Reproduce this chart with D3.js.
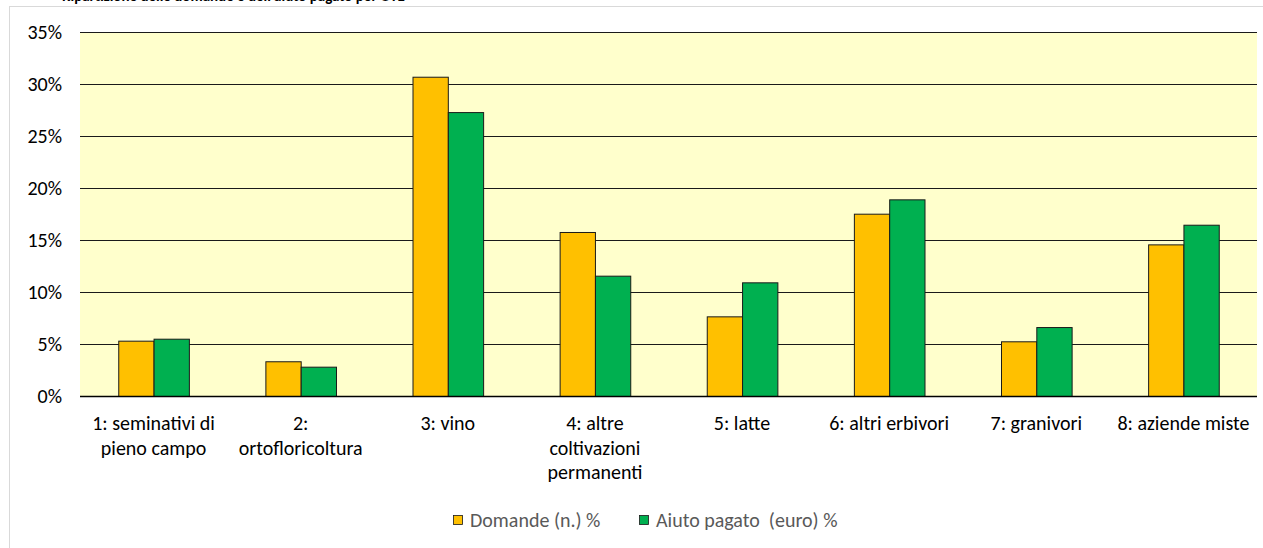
<!DOCTYPE html>
<html>
  <head>
    <title>Domande e aiuto pagato per OTE</title>
    <style>
      body {
        margin: 0;
        padding: 0;
        overflow: hidden;
        background: #fff;
      }
      svg {
        display: block;
        font-family: Calibri, Carlito, Lato, sans-serif;
      }
    </style>
    <script src="https://unpkg.com/d3@7.1.1/dist/d3.min.js"></script>
  </head>
  <body>
    <svg width="1263" height="548"></svg>
    <script>
      // Dati
      const categorie = [
        ['1: seminativi di', 'pieno campo'],
        ['2:', 'ortofloricoltura'],
        ['3: vino'],
        ['4: altre', 'coltivazioni', 'permanenti'],
        ['5: latte'],
        ['6: altri erbivori'],
        ['7: granivori'],
        ['8: aziende miste']
      ];
      const serie = ['Domande (n.) %', 'Aiuto pagato  (euro) %'];
      const domande = [5.32, 3.34, 30.7, 15.77, 7.66, 17.53, 5.26, 14.58];
      const aiuto = [5.51, 2.82, 27.3, 11.57, 10.93, 18.91, 6.63, 16.47];
      const tickValori = [0, 5, 10, 15, 20, 25, 30, 35];
      const colori = ['#FFC000', '#00B050'];

      const svg = d3.select('svg');
      const W = 1263, H = 548;
      const plot = {left: 80, right: 1257, top: 32, bottom: 396};
      const fs = 20;

      // Cornice del grafico
      svg.append('rect')
        .attr('x', 9.5).attr('y', 6.5)
        .attr('width', W).attr('height', H)
        .attr('fill', '#fff')
        .attr('stroke', '#D9D9D9');

      // Titolo (tagliato in alto, come nell'originale)
      svg.append('text')
        .attr('x', 62).attr('y', 1)
        .attr('font-size', 15)
        .attr('font-weight', 'bold')
        .attr('fill', '#000')
        .text("Ripartizione delle domande e dell'aiuto pagato per OTE");

      const keys = categorie.map((d, i) => i);
      const x0 = d3.scaleBand()
        .domain(keys)
        .range([plot.left, plot.right])
        .paddingInner(0.52)
        .paddingOuter(0.26);
      const x1 = d3.scaleBand()
        .domain([0, 1])
        .range([0, x0.bandwidth()]);
      const y = d3.scaleLinear()
        .domain([0, 35])
        .range([plot.bottom, plot.top]);

      // Sfondo area del tracciato
      svg.append('rect')
        .attr('x', plot.left).attr('y', plot.top)
        .attr('width', plot.right - plot.left)
        .attr('height', plot.bottom - plot.top)
        .attr('fill', '#FFFFCC');

      // Griglia + etichette asse Y
      const yAxis = svg.append('g')
        .attr('transform', `translate(${plot.left},0)`)
        .call(d3.axisLeft(y)
          .tickValues(tickValori)
          .tickSize(-(plot.right - plot.left))
          .tickPadding(18)
          .tickFormat(d => d + '%'));
      yAxis.select('.domain').remove();
      yAxis.selectAll('.tick line')
        .attr('stroke', '#1a1a1a')
        .attr('stroke-width', 1.2);
      yAxis.selectAll('.tick text')
        .attr('font-size', fs)
        .attr('fill', '#000')
        .attr('font-family', 'Calibri, Carlito, Lato, sans-serif');

      // Barre
      const gruppi = svg.append('g')
        .selectAll('g')
        .data(keys)
        .join('g')
        .attr('transform', d => `translate(${x0(d)},0)`);

      gruppi.selectAll('rect')
        .data(i => [domande[i], aiuto[i]].map((v, s) => ({v, s})))
        .join('rect')
        .attr('x', d => x1(d.s) + 0.5)
        .attr('y', d => y(d.v) + 0.5)
        .attr('width', x1.bandwidth())
        .attr('height', d => y(0) - y(d.v))
        .attr('fill', d => colori[d.s])
        .attr('stroke', '#1a1a1a')
        .attr('stroke-width', 1);

      // Asse X
      svg.append('line')
        .attr('x1', plot.left).attr('x2', plot.right)
        .attr('y1', y(0) + 0.5).attr('y2', y(0) + 0.5)
        .attr('stroke', '#000')
        .attr('stroke-width', 1.3);

      const etichette = svg.append('g')
        .selectAll('text')
        .data(keys)
        .join('text')
        .attr('x', d => x0(d) + x0.bandwidth() / 2)
        .attr('y', 430)
        .attr('text-anchor', 'middle')
        .attr('font-size', fs)
        .attr('fill', '#000');
      etichette.selectAll('tspan')
        .data(d => categorie[d])
        .join('tspan')
        .attr('x', function () { return d3.select(this.parentNode).attr('x'); })
        .attr('dy', (d, i) => i === 0 ? 0 : 24.5)
        .text(d => d);

      // Legenda
      const legenda = svg.append('g');
      const legX = [453, 639];
      serie.forEach((s, i) => {
        legenda.append('rect')
          .attr('x', legX[i] + 0.5).attr('y', 515.5)
          .attr('width', 9).attr('height', 9)
          .attr('fill', colori[i])
          .attr('stroke', '#1a1a1a')
          .attr('stroke-width', 0.8);
        legenda.append('text')
          .attr('x', legX[i] + 17).attr('y', 527)
          .attr('font-size', fs)
          .attr('fill', '#595959')
          .attr('xml:space', 'preserve')
          .style('white-space', 'pre')
          .text(s);
      });
    </script>
  </body>
</html>
